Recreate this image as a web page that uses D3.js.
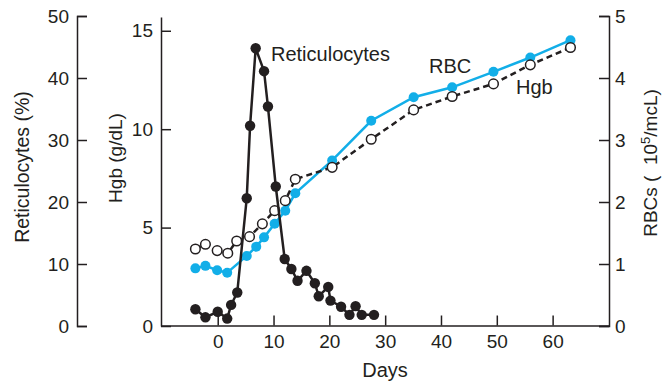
<!DOCTYPE html>
<html>
<head>
<meta charset="utf-8">
<script src="https://cdn.jsdelivr.net/npm/d3@7"></script>
<style>
  body { margin: 0; background: #fff; }
  svg text { font-family: "Liberation Sans", Arial, Helvetica, sans-serif; fill: #231f20; }
</style>
</head>
<body>
<div id="chart"></div>
<script>
// reticulocytes (%) by day
const retDays = [-4, -2.2, 0, 1.7, 2.4, 3.5, 5.2, 5.8, 6.8, 8.3, 9, 10.4, 12, 13.2, 14.3, 15.9, 17.4, 18.1, 19.8, 20.2, 22.1, 23.6, 24.7, 25.8, 28];
const retValues = [2.7, 1.4, 2.3, 1.2, 3.4, 5.4, 20.6, 32.3, 44.8, 41.1, 35.4, 22.5, 10.8, 9.2, 7.3, 8.9, 6.9, 4.8, 6.3, 4.1, 3.1, 1.8, 3.2, 1.8, 1.8];

// RBCs (10^5/mcL)
const rbcDays = [-4, -2.2, -0.1, 1.7, 5.2, 6.9, 8.3, 10.2, 12.1, 13.9, 20.5, 27.5, 35.1, 42, 49.4, 56, 63.2];
const rbcValues = [0.93, 0.97, 0.90, 0.86, 1.13, 1.28, 1.43, 1.65, 1.86, 2.14, 2.67, 3.31, 3.69, 3.85, 4.10, 4.33, 4.61];

// Hgb (g/dL)
const hgbDays = [-4, -2.2, -0.1, 1.8, 3.4, 5.7, 8, 10.2, 12.1, 13.9, 20.5, 27.5, 35.1, 42, 49.4, 56, 63.2];
const hgbValues = [3.91, 4.15, 3.83, 3.70, 4.32, 4.54, 5.19, 5.86, 6.37, 7.46, 8.06, 9.49, 10.98, 11.66, 12.30, 13.27, 14.15];

const dayTicks = [0, 10, 20, 30, 40, 50, 60];
const retTicks = [0, 10, 20, 30, 40, 50];
const hgbTicks = [0, 5, 10, 15];
const rbcTicks = [0, 1, 2, 3, 4, 5];

const width = 671, height = 384;
const ink = "#231f20";
const blue = "#12aee8";

const svg = d3.select("#chart")
    .append("svg")
    .attr("width", width)
    .attr("height", height);

const x = d3.scaleLinear().domain([-10.25, 70.1]).range([160.5, 609]);
const yRet = d3.scaleLinear().domain([0, 50]).range([326, 16]);
const yHgb = d3.scaleLinear().domain([0, 15.7]).range([326, 17]);
const yRbc = d3.scaleLinear().domain([0, 5]).range([326, 16]);

function styleAxis(g, size) {
    g.selectAll("path, line").attr("stroke", ink).attr("stroke-width", 1.5);
    g.selectAll("text").attr("fill", ink).style("font-size", size + "px")
        .style("font-family", '"Liberation Sans", Arial, sans-serif');
}

// left reticulocyte axis
svg.append("g")
    .attr("transform", "translate(77,0)")
    .call(d3.axisLeft(yRet).tickValues(retTicks).tickFormat(d3.format("d"))
        .tickSizeInner(-10).tickSizeOuter(-10).tickPadding(8))
    .call(g => styleAxis(g, 19));

// Hgb axis
svg.append("g")
    .attr("transform", "translate(161,0)")
    .call(d3.axisLeft(yHgb).tickValues(hgbTicks).tickFormat(d3.format("d"))
        .tickSizeInner(-10).tickSizeOuter(0).tickPadding(8))
    .call(g => styleAxis(g, 19));

// right RBC axis
svg.append("g")
    .attr("transform", "translate(609,0)")
    .call(d3.axisRight(yRbc).tickValues(rbcTicks).tickFormat(d3.format("d"))
        .tickSizeInner(-10).tickSizeOuter(-10).tickPadding(6))
    .call(g => styleAxis(g, 19));

// days axis
svg.append("g")
    .attr("transform", "translate(0,325.5)")
    .call(d3.axisBottom(x).tickValues(dayTicks).tickFormat(d3.format("d"))
        .tickSizeInner(-10).tickSizeOuter(0).tickPadding(9))
    .call(g => styleAxis(g, 19));

// axis titles
svg.append("text")
    .attr("transform", "translate(29,167) rotate(-90)")
    .attr("text-anchor", "middle")
    .style("font-size", "19.5px")
    .text("Reticulocytes (%)");

svg.append("text")
    .attr("transform", "translate(122,158) rotate(-90)")
    .attr("text-anchor", "middle")
    .style("font-size", "19px")
    .text("Hgb (g/dL)");

const rbcTitle = svg.append("text")
    .attr("transform", "translate(657,163) rotate(-90)")
    .attr("text-anchor", "middle")
    .style("font-size", "19px");
rbcTitle.append("tspan").text("RBCs (\u00a0\u00a010");
rbcTitle.append("tspan").attr("dy", -7).style("font-size", "13px").text("5");
rbcTitle.append("tspan").attr("dy", 7).text("/mcL)");

svg.append("text")
    .attr("x", 385).attr("y", 377)
    .attr("text-anchor", "middle")
    .style("font-size", "20px")
    .text("Days");

// series
const line = d3.line().x(d => x(d[0]));

const rbcData = d3.zip(rbcDays, rbcValues);
const hgbData = d3.zip(hgbDays, hgbValues);
const retData = d3.zip(retDays, retValues);

svg.append("path")
    .datum(rbcData)
    .attr("d", line.y(d => yRbc(d[1])))
    .attr("fill", "none")
    .attr("stroke", blue)
    .attr("stroke-width", 2.5);

svg.selectAll(".rbc")
    .data(rbcData)
    .enter()
    .append("circle")
    .attr("class", "rbc")
    .attr("cx", d => x(d[0]))
    .attr("cy", d => yRbc(d[1]))
    .attr("r", 5)
    .attr("fill", blue);

svg.append("path")
    .datum(hgbData)
    .attr("d", line.y(d => yHgb(d[1])))
    .attr("fill", "none")
    .attr("stroke", ink)
    .attr("stroke-width", 2.5)
    .attr("stroke-dasharray", "6,4");

svg.selectAll(".hgb")
    .data(hgbData)
    .enter()
    .append("circle")
    .attr("class", "hgb")
    .attr("cx", d => x(d[0]))
    .attr("cy", d => yHgb(d[1]))
    .attr("r", 4.8)
    .attr("fill", "#fff")
    .attr("stroke", ink)
    .attr("stroke-width", 1.5);

svg.append("path")
    .datum(retData)
    .attr("d", line.y(d => yRet(d[1])))
    .attr("fill", "none")
    .attr("stroke", ink)
    .attr("stroke-width", 2.5);

svg.selectAll(".ret")
    .data(retData)
    .enter()
    .append("circle")
    .attr("class", "ret")
    .attr("cx", d => x(d[0]))
    .attr("cy", d => yRet(d[1]))
    .attr("r", 5.2)
    .attr("fill", ink);

// series labels
svg.append("text").attr("x", 271).attr("y", 61).style("font-size", "20px").text("Reticulocytes");
svg.append("text").attr("x", 429).attr("y", 73).style("font-size", "20px").text("RBC");
svg.append("text").attr("x", 516).attr("y", 94).style("font-size", "20px").text("Hgb");
</script>
</body>
</html>
